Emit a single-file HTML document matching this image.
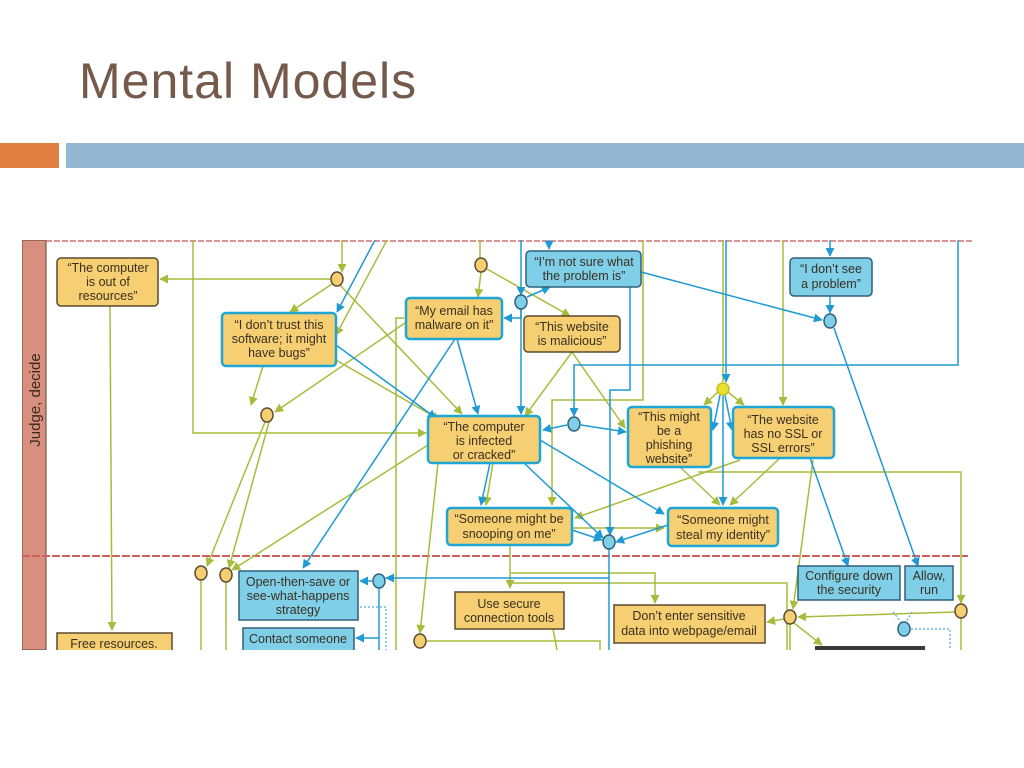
<!DOCTYPE html>
<html><head><meta charset="utf-8"><style>
html,body{margin:0;padding:0;background:#fff;width:1024px;height:768px;overflow:hidden;font-family:"Liberation Sans",sans-serif}
.t{position:absolute;left:79px;top:52px;font-size:50px;color:#75594b;letter-spacing:1px}
.b1{position:absolute;left:0;top:143px;width:59px;height:25px;background:#df7f40}
.b2{position:absolute;left:66px;top:143px;width:958px;height:25px;background:#93b7d3}
svg{position:absolute;left:0;top:0}
svg text{font-family:"Liberation Sans",sans-serif;font-size:12.5px;fill:#3a3020;text-anchor:middle}
</style></head><body>
<div class="t">Mental Models</div>
<div class="b1"></div><div class="b2"></div>
<svg width="1024" height="768" viewBox="0 0 1024 768">
<defs>
<marker id="ag" viewBox="0 0 10 10" refX="9" refY="5" markerWidth="6" markerHeight="6" orient="auto"><path d="M0,0L10,5L0,10z" fill="#a8bc3c"/></marker>
<marker id="ab" viewBox="0 0 10 10" refX="9" refY="5" markerWidth="6" markerHeight="6" orient="auto"><path d="M0,0L10,5L0,10z" fill="#1e9ad4"/></marker>
<clipPath id="c"><rect x="22" y="240" width="950" height="410"/></clipPath>
</defs>
<g clip-path="url(#c)">
<rect x="22" y="240" width="24" height="410" fill="#d98f7e" stroke="#5a4030" stroke-width="1"/>
<line x1="46" y1="241" x2="972" y2="241" stroke="#d07070" stroke-width="1.5" stroke-dasharray="6,2"/>
<line x1="22" y1="556" x2="968" y2="556" stroke="#d06060" stroke-width="2" stroke-dasharray="8,2"/>
<text x="40" y="400" transform="rotate(-90 40 400)" style="font-size:15px;fill:#3a2a20">Judge, decide</text>

<g fill="none" stroke="#a8bc3c" stroke-width="1.5">
<path d="M193 240V433H426" marker-end="url(#ag)"/>
<path d="M342 240V272" marker-end="url(#ag)"/>
<path d="M330 279H160" marker-end="url(#ag)"/>
<path d="M332 284L290 312" marker-end="url(#ag)"/>
<path d="M340 285L462 414" marker-end="url(#ag)"/>
<path d="M387 240L336 335" marker-end="url(#ag)"/>
<path d="M480 240V258"/>
<path d="M481 272L478 297" marker-end="url(#ag)"/>
<path d="M487 269L570 316" marker-end="url(#ag)"/>
<path d="M263 366L251 405" marker-end="url(#ag)"/>
<path d="M405 323L275 412" marker-end="url(#ag)"/>
<path d="M336 360L440 420" marker-end="url(#ag)"/>
<path d="M265 422L207 566" marker-end="url(#ag)"/>
<path d="M269 422L229 568" marker-end="url(#ag)"/>
<path d="M110 306L112 630" marker-end="url(#ag)"/>
<path d="M428 445L232 570" marker-end="url(#ag)"/>
<path d="M404 318H396V650"/>
<path d="M438 463L420 633" marker-end="url(#ag)"/>
<path d="M572 352L525 416" marker-end="url(#ag)"/>
<path d="M572 352L625 428" marker-end="url(#ag)"/>
<path d="M643 240V400H552V505" marker-end="url(#ag)"/>
<path d="M723 240V382"/>
<path d="M718 392L704 405" marker-end="url(#ag)"/>
<path d="M728 392L744 405" marker-end="url(#ag)"/>
<path d="M783 240V405" marker-end="url(#ag)"/>
<path d="M680 467L720 505" marker-end="url(#ag)"/>
<path d="M780 458L730 505" marker-end="url(#ag)"/>
<path d="M740 460L575 518" marker-end="url(#ag)"/>
<path d="M572 528H664" marker-end="url(#ag)"/>
<path d="M493 463L486 505" marker-end="url(#ag)"/>
<path d="M510 545V588" marker-end="url(#ag)"/>
<path d="M510 573H655V603" marker-end="url(#ag)"/>
<path d="M510 583H787V650"/>
<path d="M698 472H961V603" marker-end="url(#ag)"/>
<path d="M813 460L793 609" marker-end="url(#ag)"/>
<path d="M955 612L798 617" marker-end="url(#ag)"/>
<path d="M784 619L767 622" marker-end="url(#ag)"/>
<path d="M794 623L822 645" marker-end="url(#ag)"/>
<path d="M790 624V650"/><path d="M961 618V650"/>
<path d="M201 580V650"/><path d="M226 582V650"/>
<path d="M427 641H600V650"/>
<path d="M553 629L557 650"/>
</g>
<g fill="none" stroke="#1e9ad4" stroke-width="1.5">
<path d="M375 240L337 312" marker-end="url(#ab)"/>
<path d="M549 240V249" marker-end="url(#ab)"/>
<path d="M521 240V295" marker-end="url(#ab)"/>
<path d="M527 297L550 287" marker-end="url(#ab)"/>
<path d="M521 309V318H504" marker-end="url(#ab)"/>
<path d="M521 309V414" marker-end="url(#ab)"/>
<path d="M641 272L822 320" marker-end="url(#ab)"/>
<path d="M830 240V256" marker-end="url(#ab)"/>
<path d="M830 296V313" marker-end="url(#ab)"/>
<path d="M834 328L918 566" marker-end="url(#ab)"/>
<path d="M958 240V365H574V416" marker-end="url(#ab)"/>
<path d="M567 425L543 430" marker-end="url(#ab)"/>
<path d="M581 425L626 432" marker-end="url(#ab)"/>
<path d="M726 240V382" marker-end="url(#ab)"/>
<path d="M720 395L713 430" marker-end="url(#ab)"/>
<path d="M725 395L732 430" marker-end="url(#ab)"/>
<path d="M723 396V505" marker-end="url(#ab)"/>
<path d="M630 287V390H610V535" marker-end="url(#ab)"/>
<path d="M336 345L436 418" marker-end="url(#ab)"/>
<path d="M457 339L478 414" marker-end="url(#ab)"/>
<path d="M455 339L303 568" marker-end="url(#ab)"/>
<path d="M490 463L481 505" marker-end="url(#ab)"/>
<path d="M540 440L664 514" marker-end="url(#ab)"/>
<path d="M524 463L603 538" marker-end="url(#ab)"/>
<path d="M572 530L602 540" marker-end="url(#ab)"/>
<path d="M668 525L616 542" marker-end="url(#ab)"/>
<path d="M810 458L848 566" marker-end="url(#ab)"/>
<path d="M609 549V650"/>
<path d="M609 578H386" marker-end="url(#ab)"/>
<path d="M372 581H360" marker-end="url(#ab)"/>
<path d="M379 588V650"/>
<path d="M379 638H356" marker-end="url(#ab)"/>
</g>
<g fill="none" stroke="#4aa8e0" stroke-width="1.2" stroke-dasharray="2,2">
<path d="M360 607H386V650"/><path d="M893 612L901 622"/><path d="M912 612L906 622"/><path d="M911 629H950V650"/>
</g>
<rect x="815" y="646" width="110" height="6" fill="#3a3a3a"/>

<g stroke-width="1.5">
<ellipse cx="337" cy="279" rx="6" ry="7" fill="#f5cf72" stroke="#5a4a30"/>
<ellipse cx="481" cy="265" rx="6" ry="7" fill="#f5cf72" stroke="#5a4a30"/>
<ellipse cx="521" cy="302" rx="6" ry="7" fill="#7fcfe8" stroke="#30607a"/>
<ellipse cx="830" cy="321" rx="6" ry="7" fill="#7fcfe8" stroke="#30607a"/>
<ellipse cx="267" cy="415" rx="6" ry="7" fill="#f5cf72" stroke="#5a4a30"/>
<ellipse cx="574" cy="424" rx="6" ry="7" fill="#7fcfe8" stroke="#30607a"/>
<ellipse cx="723" cy="389" rx="6" ry="6" fill="#e8e030" stroke="#c8c020"/>
<ellipse cx="609" cy="542" rx="6" ry="7" fill="#7fcfe8" stroke="#30607a"/>
<ellipse cx="201" cy="573" rx="6" ry="7" fill="#f5cf72" stroke="#5a4a30"/>
<ellipse cx="226" cy="575" rx="6" ry="7" fill="#f5cf72" stroke="#5a4a30"/>
<ellipse cx="379" cy="581" rx="6" ry="7" fill="#7fcfe8" stroke="#30607a"/>
<ellipse cx="420" cy="641" rx="6" ry="7" fill="#f5cf72" stroke="#5a4a30"/>
<ellipse cx="790" cy="617" rx="6" ry="7" fill="#f5cf72" stroke="#5a4a30"/>
<ellipse cx="961" cy="611" rx="6" ry="7" fill="#f5cf72" stroke="#5a4a30"/>
<ellipse cx="904" cy="629" rx="6" ry="7" fill="#7fcfe8" stroke="#30607a"/>
</g>

<!-- nodes -->
<g stroke-width="1.5">
<rect x="57" y="258" width="101" height="48" rx="4" fill="#f5cf72" stroke="#5a4a30"/>
<rect x="222" y="313" width="114" height="53" rx="4" fill="#f5cf72" stroke="#1ea6d4" stroke-width="2.5"/>
<rect x="406" y="298" width="96" height="41" rx="4" fill="#f5cf72" stroke="#1ea6d4" stroke-width="2.5"/>
<rect x="526" y="251" width="115" height="36" rx="4" fill="#7fcfe8" stroke="#30607a"/>
<rect x="524" y="316" width="96" height="36" rx="4" fill="#f5cf72" stroke="#5a4a30"/>
<rect x="790" y="258" width="82" height="38" rx="4" fill="#7fcfe8" stroke="#30607a"/>
<rect x="428" y="416" width="112" height="47" rx="4" fill="#f5cf72" stroke="#1ea6d4" stroke-width="2.5"/>
<rect x="628" y="407" width="83" height="60" rx="4" fill="#f5cf72" stroke="#1ea6d4" stroke-width="2.5"/>
<rect x="733" y="407" width="101" height="51" rx="4" fill="#f5cf72" stroke="#1ea6d4" stroke-width="2.5"/>
<rect x="447" y="508" width="125" height="37" rx="4" fill="#f5cf72" stroke="#1ea6d4" stroke-width="2.5"/>
<rect x="668" y="508" width="110" height="38" rx="4" fill="#f5cf72" stroke="#1ea6d4" stroke-width="2.5"/>
<rect x="239" y="571" width="119" height="49" fill="#7fcfe8" stroke="#30607a"/>
<rect x="243" y="628" width="111" height="30" fill="#7fcfe8" stroke="#30607a"/>
<rect x="455" y="592" width="109" height="37" fill="#f5cf72" stroke="#5a4a30"/>
<rect x="614" y="605" width="151" height="38" fill="#f5cf72" stroke="#5a4a30"/>
<rect x="798" y="566" width="102" height="34" fill="#7fcfe8" stroke="#30607a"/>
<rect x="905" y="566" width="48" height="34" fill="#7fcfe8" stroke="#30607a"/>
<rect x="57" y="633" width="115" height="30" fill="#f5cf72" stroke="#5a4a30"/>
</g>
<text x="108" y="272">“The computer</text><text x="108" y="286">is out of</text><text x="108" y="300">resources”</text>
<text x="279" y="329">“I don’t trust this</text><text x="279" y="343">software; it might</text><text x="279" y="357">have bugs”</text>
<text x="454" y="315">“My email has</text><text x="454" y="329">malware on it”</text>
<text x="584" y="266">“I’m not sure what</text><text x="584" y="280">the problem is”</text>
<text x="572" y="331">“This website</text><text x="572" y="345">is malicious”</text>
<text x="831" y="273">“I don’t see</text><text x="831" y="288">a problem”</text>
<text x="484" y="431">“The computer</text><text x="484" y="445">is infected</text><text x="484" y="459">or cracked”</text>
<text x="669" y="421">“This might</text><text x="669" y="435">be a</text><text x="669" y="449">phishing</text><text x="669" y="463">website”</text>
<text x="783" y="424">“The website</text><text x="783" y="438">has no SSL or</text><text x="783" y="452">SSL errors”</text>
<text x="509" y="523">“Someone might be</text><text x="509" y="538">snooping on me”</text>
<text x="723" y="524">“Someone might</text><text x="723" y="539">steal my identity”</text>
<text x="298" y="586">Open-then-save or</text><text x="298" y="600">see-what-happens</text><text x="298" y="614">strategy</text>
<text x="298" y="643">Contact someone</text>
<text x="509" y="608">Use secure</text><text x="509" y="622">connection tools</text>
<text x="689" y="620">Don’t enter sensitive</text><text x="689" y="635">data into webpage/email</text>
<text x="849" y="580">Configure down</text><text x="849" y="594">the security</text>
<text x="929" y="580">Allow,</text><text x="929" y="594">run</text>
<text x="114" y="648">Free resources.</text>
</g>
</svg>
</body></html>
